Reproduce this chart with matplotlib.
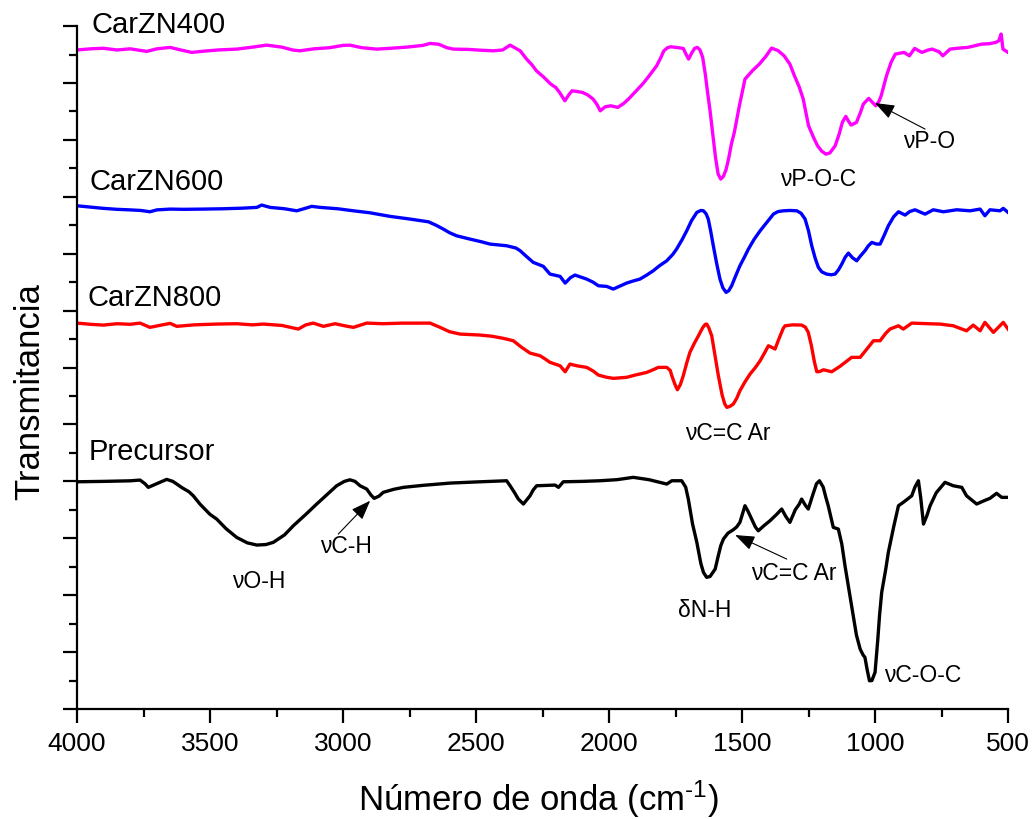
import matplotlib
matplotlib.use("Agg")
import matplotlib.pyplot as plt
from matplotlib.ticker import MultipleLocator, NullFormatter

plt.rcParams['font.family'] = ['Liberation Sans', 'DejaVu Sans']
plt.rcParams['mathtext.default'] = 'regular'

# --- spectra (wavenumber cm-1, stacked transmittance, arbitrary units) ---
wn_400 = [4000, 3950, 3901, 3850, 3800, 3760, 3738, 3700, 3650, 3610, 3569, 3520, 3470, 3400,
          3340, 3287, 3230, 3190, 3162, 3110, 3050, 3000, 2974, 2930, 2873, 2820, 2760, 2700,
          2673, 2640, 2610, 2585, 2530, 2480, 2435, 2400, 2372, 2355, 2334, 2310, 2290, 2273,
          2245, 2219, 2200, 2186, 2166, 2150, 2139, 2120, 2100, 2080, 2060, 2045, 2033, 2015,
          1994, 1967, 1945, 1927, 1900, 1874, 1850, 1821, 1805, 1794, 1780, 1768, 1740, 1721,
          1710, 1701, 1690, 1678, 1668, 1658, 1648, 1638, 1630, 1621, 1610, 1600, 1590, 1580,
          1570, 1560, 1550, 1540, 1529, 1510, 1489, 1460, 1435, 1410, 1389, 1365, 1342, 1320,
          1303, 1285, 1270, 1250, 1230, 1216, 1200, 1185, 1170, 1150, 1135, 1123, 1110, 1100,
          1090, 1070, 1055, 1044, 1024, 1010, 997, 985, 977, 957, 940, 924, 891, 871, 851, 824,
          800, 785, 760, 745, 718, 690, 652, 620, 599, 570, 546, 535, 526, 519, 500]
t_400 = [11.58, 11.60, 11.61, 11.58, 11.60, 11.57, 11.555, 11.60, 11.625, 11.58, 11.537, 11.56,
         11.58, 11.595, 11.63, 11.665, 11.63, 11.58, 11.565, 11.60, 11.62, 11.66, 11.665, 11.62,
         11.595, 11.61, 11.63, 11.66, 11.695, 11.68, 11.62, 11.595, 11.59, 11.575, 11.565, 11.58,
         11.665, 11.62, 11.565, 11.42, 11.32, 11.214, 11.10, 10.98, 10.92, 10.834, 10.687, 10.80,
         10.863, 10.85, 10.834, 10.79, 10.717, 10.62, 10.511, 10.58, 10.599, 10.571, 10.64,
         10.717, 10.85, 10.98, 11.12, 11.302, 11.45, 11.565, 11.62, 11.636, 11.62, 11.607, 11.50,
         11.42, 11.52, 11.61, 11.625, 11.58, 11.449, 11.15, 10.85, 10.541, 10.10, 9.70, 9.40,
         9.311, 9.36, 9.48, 9.68, 9.93, 10.132, 10.60, 11.068, 11.22, 11.332, 11.47, 11.613,
         11.57, 11.478, 11.33, 11.126, 10.93, 10.717, 10.248, 10.03, 9.896, 9.80, 9.75, 9.77,
         9.896, 10.10, 10.307, 10.413, 10.33, 10.26, 10.307, 10.48, 10.629, 10.729, 10.66,
         10.599, 10.68, 10.775, 11.126, 11.36, 11.507, 11.537, 11.478, 11.607, 11.537, 11.58,
         11.595, 11.55, 11.478, 11.595, 11.61, 11.625, 11.66, 11.683, 11.69, 11.713, 11.74,
         11.859, 11.595, 11.537]

wn_600 = [4000, 3950, 3901, 3850, 3800, 3760, 3726, 3700, 3650, 3600, 3525, 3450, 3380, 3324,
          3306, 3274, 3220, 3174, 3140, 3118, 3086, 3020, 2961, 2900, 2823, 2750, 2679, 2650,
          2623, 2600, 2573, 2523, 2480, 2447, 2385, 2350, 2334, 2310, 2285, 2247, 2222, 2184,
          2165, 2145, 2128, 2100, 2084, 2060, 2040, 2009, 1984, 1960, 1934, 1910, 1884, 1860,
          1834, 1810, 1783, 1760, 1746, 1725, 1708, 1690, 1670, 1655, 1645, 1635, 1627, 1618,
          1608, 1595, 1583, 1572, 1560, 1550, 1539, 1525, 1508, 1490, 1476, 1455, 1432, 1405,
          1382, 1365, 1345, 1320, 1294, 1278, 1263, 1250, 1238, 1225, 1213, 1200, 1182, 1165,
          1150, 1137, 1125, 1112, 1100, 1085, 1069, 1055, 1038, 1025, 1012, 995, 981, 965, 950,
          930, 912, 887, 870, 850, 812, 781, 743, 693, 643, 605, 587, 568, 530, 518, 500]
t_600 = [8.842, 8.82, 8.797, 8.78, 8.77, 8.76, 8.737, 8.77, 8.784, 8.78, 8.784, 8.79, 8.80, 8.814,
         8.855, 8.814, 8.79, 8.754, 8.80, 8.832, 8.814, 8.79, 8.754, 8.72, 8.656, 8.61, 8.561,
         8.50, 8.433, 8.37, 8.315, 8.257, 8.21, 8.169, 8.14, 8.10, 8.052, 7.95, 7.848, 7.778,
         7.642, 7.602, 7.484, 7.58, 7.625, 7.58, 7.554, 7.50, 7.437, 7.426, 7.379, 7.43, 7.484,
         7.52, 7.554, 7.62, 7.70, 7.79, 7.876, 7.99, 8.082, 8.25, 8.403, 8.58, 8.726, 8.76,
         8.754, 8.70, 8.609, 8.40, 8.14, 7.82, 7.554, 7.40, 7.321, 7.35, 7.437, 7.60, 7.788,
         7.95, 8.082, 8.25, 8.403, 8.56, 8.696, 8.74, 8.754, 8.76, 8.754, 8.71, 8.609, 8.40,
         8.14, 7.92, 7.76, 7.68, 7.642, 7.63, 7.642, 7.72, 7.818, 7.94, 8.011, 7.93, 7.876,
         7.96, 8.052, 8.14, 8.199, 8.17, 8.169, 8.33, 8.491, 8.65, 8.737, 8.679, 8.74, 8.772,
         8.696, 8.772, 8.737, 8.772, 8.754, 8.784, 8.667, 8.772, 8.754, 8.797, 8.726]

wn_800 = [4000, 3950, 3901, 3850, 3800, 3763, 3726, 3690, 3650, 3625, 3560, 3475, 3400, 3340,
          3300, 3230, 3168, 3140, 3112, 3074, 3030, 2990, 2961, 2911, 2850, 2780, 2720, 2673,
          2635, 2600, 2560, 2485, 2440, 2397, 2360, 2330, 2297, 2259, 2240, 2222, 2184, 2165,
          2147, 2120, 2084, 2060, 2040, 2010, 1984, 1934, 1900, 1858, 1830, 1815, 1783, 1770,
          1764, 1752, 1743, 1732, 1721, 1708, 1696, 1680, 1664, 1648, 1638, 1633, 1625, 1614,
          1603, 1589, 1575, 1565, 1557, 1545, 1533, 1520, 1508, 1490, 1470, 1450, 1432, 1415,
          1401, 1390, 1376, 1360, 1345, 1338, 1310, 1276, 1262, 1251, 1240, 1228, 1219, 1208,
          1194, 1163, 1132, 1110, 1088, 1056, 1030, 1006, 981, 960, 944, 912, 894, 862, 800,
          756, 706, 656, 631, 605, 587, 555, 518, 500]
t_800 = [6.781, 6.76, 6.746, 6.77, 6.76, 6.781, 6.706, 6.74, 6.776, 6.724, 6.75, 6.764, 6.77,
         6.75, 6.764, 6.74, 6.676, 6.75, 6.781, 6.724, 6.77, 6.73, 6.706, 6.781, 6.77, 6.78,
         6.78, 6.781, 6.706, 6.63, 6.588, 6.571, 6.55, 6.513, 6.471, 6.36, 6.254, 6.207, 6.15,
         6.091, 6.031, 5.926, 6.061, 6.03, 6.003, 5.94, 5.868, 5.83, 5.81, 5.828, 5.87, 5.915,
         5.97, 6.003, 6.003, 5.95, 5.856, 5.70, 5.61, 5.70, 5.856, 6.08, 6.267, 6.42, 6.558,
         6.70, 6.76, 6.764, 6.70, 6.558, 6.25, 5.856, 5.52, 5.36, 5.30, 5.32, 5.358, 5.46, 5.592,
         5.74, 5.885, 6.00, 6.119, 6.26, 6.383, 6.36, 6.325, 6.52, 6.69, 6.734, 6.75, 6.746,
         6.71, 6.618, 6.40, 6.10, 5.926, 5.93, 5.961, 5.926, 6.021, 6.10, 6.179, 6.179, 6.33,
         6.471, 6.471, 6.60, 6.676, 6.734, 6.676, 6.781, 6.77, 6.764, 6.734, 6.646, 6.746,
         6.646, 6.794, 6.618, 6.794, 6.676]

wn_pre = [4000, 3900, 3800, 3763, 3745, 3732, 3700, 3663, 3640, 3625, 3606, 3580, 3563, 3538,
          3500, 3475, 3440, 3400, 3360, 3324, 3290, 3262, 3220, 3187, 3140, 3099, 3060, 3024,
          2995, 2974, 2955, 2936, 2911, 2895, 2883, 2865, 2849, 2810, 2773, 2700, 2598, 2500,
          2385, 2372, 2355, 2341, 2322, 2297, 2285, 2272, 2203, 2190, 2172, 2100, 2034, 1970,
          1909, 1850, 1783, 1764, 1727, 1712, 1702, 1686, 1670, 1655, 1645, 1633, 1620, 1610,
          1601, 1590, 1580, 1570, 1553, 1533, 1520, 1508, 1497, 1489, 1478, 1464, 1450, 1439,
          1418, 1395, 1370, 1351, 1335, 1320, 1300, 1285, 1276, 1262, 1251, 1235, 1220, 1209,
          1195, 1185, 1176, 1165, 1157, 1138, 1125, 1113, 1100, 1082, 1070, 1056, 1045, 1038,
          1030, 1021, 1012, 1000, 990, 983, 975, 960, 950, 930, 912, 894, 875, 862, 850, 837,
          828, 818, 805, 793, 770, 737, 706, 674, 656, 618, 590, 568, 543, 524, 500]
t_pre = [3.993, 4.00, 4.01, 4.023, 3.96, 3.895, 3.96, 4.035, 4.00, 3.953, 3.891, 3.82, 3.747,
         3.602, 3.42, 3.338, 3.17, 3.016, 2.92, 2.881, 2.89, 2.929, 3.06, 3.22, 3.42, 3.602,
         3.77, 3.923, 4.00, 4.028, 4.00, 3.923, 3.865, 3.76, 3.702, 3.74, 3.807, 3.86, 3.895,
         3.93, 3.97, 3.99, 4.011, 3.923, 3.80, 3.689, 3.602, 3.747, 3.85, 3.923, 3.935, 3.895,
         3.993, 4.00, 4.011, 4.03, 4.071, 4.03, 3.953, 4.011, 4.011, 3.90, 3.689, 3.25, 2.929,
         2.56, 2.40, 2.314, 2.33, 2.40, 2.46, 2.68, 2.87, 2.987, 3.09, 3.15, 3.20, 3.28, 3.45,
         3.572, 3.48, 3.338, 3.20, 3.132, 3.22, 3.308, 3.42, 3.514, 3.38, 3.28, 3.50, 3.60,
         3.689, 3.58, 3.514, 3.75, 3.96, 4.011, 3.90, 3.72, 3.572, 3.35, 3.192, 3.162, 2.90,
         2.518, 2.15, 1.64, 1.30, 1.054, 0.95, 0.908, 0.70, 0.497, 0.50, 0.645, 1.20, 1.65,
         2.05, 2.45, 2.753, 3.20, 3.572, 3.631, 3.70, 3.747, 3.90, 4.011, 3.70, 3.25, 3.40,
         3.572, 3.80, 3.983, 3.923, 3.895, 3.747, 3.602, 3.66, 3.702, 3.79, 3.719, 3.719]

names = ["CarZN400", "CarZN600", "CarZN800", "Precursor"]
colors = ["#FF00FF", "#0000FF", "#FF0000", "black"]
label_x = [3945, 3955, 3961, 3957]
label_y = [11.89, 9.136, 7.098, 4.392]

# band labels: text, x, y (baseline)
band_text = ["\u03bdO-H", "\u03bdC-H", "\u03b4N-H", "\u03bdC=C Ar", "\u03bdC-O-C",
             "\u03bdC=C Ar", "\u03bdP-O-C", "\u03bdP-O"]
band_x = [3316, 2989, 1639, 1305, 821, 1555, 1214, 797]
band_y = [2.138, 2.753, 1.639, 2.284, 0.497, 4.743, 9.211, 9.874]

# arrows: start -> tip
arrow_start = [(3018, 3.074), (1332, 2.635), (812, 10.19)]
arrow_tip = [(2898, 3.66), (1526, 3.057), (1000, 10.647)]

fig = plt.figure(figsize=(10.34, 8.2), dpi=100)
ax = fig.add_axes([0.0745, 0.1341, 0.9004, 0.8329])

spectra = [(wn_400, t_400), (wn_600, t_600), (wn_800, t_800), (wn_pre, t_pre)]
for (x, y), name, c, lx, ly in zip(spectra, names, colors, label_x, label_y):
    ax.plot(x, y, color=c, lw=2.4, solid_joinstyle='round')
    ax.text(lx, ly, name, fontsize=21, ha='left', va='baseline')

for txt, x, y in zip(band_text, band_x, band_y):
    ax.text(x, y, txt, fontsize=16.5, ha='center', va='baseline')

for start, tip in zip(arrow_start, arrow_tip):
    ax.annotate('', xy=tip, xytext=start,
                arrowprops=dict(arrowstyle='-|>,head_length=0.8,head_width=0.3',
                                color='black', lw=0.8, shrinkA=0, shrinkB=0,
                                mutation_scale=15))

ax.set_xlim(4000, 500)
ax.set_ylim(0, 12)
ax.xaxis.set_major_locator(MultipleLocator(500))
ax.xaxis.set_minor_locator(MultipleLocator(250))
ax.yaxis.set_major_locator(MultipleLocator(1))
ax.yaxis.set_minor_locator(MultipleLocator(0.5))
ax.yaxis.set_major_formatter(NullFormatter())
for s in ['top', 'right']:
    ax.spines[s].set_visible(False)
for s in ['left', 'bottom']:
    ax.spines[s].set_linewidth(1.6)
ax.tick_params(which='major', length=10, width=1.6, labelsize=19, pad=6)
ax.tick_params(which='minor', length=5.5, width=1.6)

ax.set_xlabel("Número de onda (cm$^{\u20101}$)", fontsize=25, va='top')
ax.xaxis.set_label_coords(0.496, -0.100)
ax.set_ylabel("Transmitancia", fontsize=25, va='baseline')
ax.yaxis.set_label_coords(-0.0408, 0.466)

fig.savefig("out.png", dpi=100)
